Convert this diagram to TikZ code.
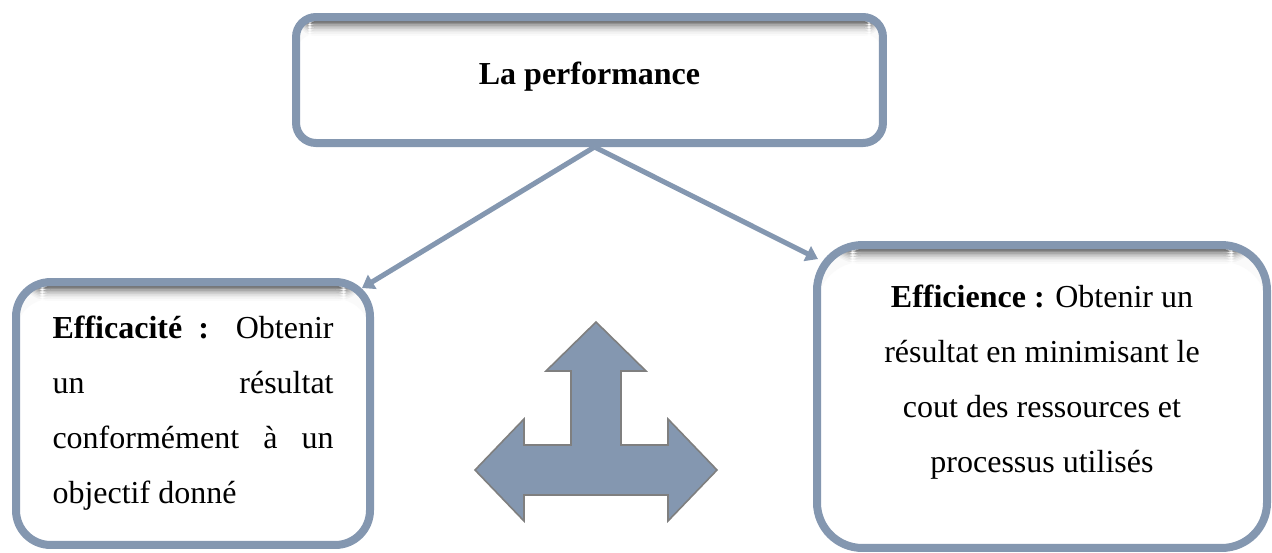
\documentclass[tikz,border=0pt]{standalone}
\usepackage{fontspec}
\setmainfont{Liberation Serif}
\usetikzlibrary{calc,arrows.meta}
\definecolor{frame}{HTML}{8497B0}
\definecolor{edge}{HTML}{7F7F7F}
\tikzset{
  box/.style={draw=frame, fill=white, line width=3pt, inner sep=0pt,
    path picture={\foreach \k/\c in {0/55,1/44,2/34,3/26,4/19,5/13,6/8,7/5,8/2}
      \fill[black!\c] ($(path picture bounding box.north west)+(0,-1.5pt-\k*0.6pt)$)
        rectangle ($(path picture bounding box.north east)+(0,-2.3pt-\k*0.6pt)$);}},
  link/.style={draw=frame, line width=1.9pt, -{Triangle[length=4.5pt,width=6pt]}},
  three/.style={fill=frame, draw=edge, line width=0.6pt, line join=miter},
  lab/.style={font=\fontsize{12pt}{20.6pt}\selectfont, inner sep=0pt},
}

\begin{document}
\begin{tikzpicture}[x=0.375pt,y=-0.375pt]
  \useasboundingbox (0,0) rectangle (1272,552);

  % boxes
  \node[box, minimum width=220.1pt, minimum height=47.25pt, rounded corners=7.5pt] (perf) at (589.5,80) {};
  \node[box, minimum width=132.75pt, minimum height=98.6pt, rounded corners=13pt] (effi) at (193,413.5) {};
  \node[box, minimum width=168.75pt, minimum height=113.6pt, rounded corners=17pt] (effe) at (1042,396.5) {};

  % texts (base = last line)
  \node[lab, anchor=base] (perftxt) at (589.5,84) {\textbf{La performance}};
  \node[lab, anchor=base west, align=left] (effitxt) at (52,503)
    {\makebox[105.4pt][s]{\textbf{Efficacité :} Obtenir}\\
     \makebox[105.4pt][s]{un résultat}\\
     \makebox[105.4pt][s]{conformément à un}\\
     objectif donné};
  \node[lab, anchor=base, align=center] (effetxt) at (1042,472)
    {\textbf{Efficience :} Obtenir un\\
     résultat en minimisant le\\
     cout des ressources et\\
     processus utilisés};

  % links
  \draw[link] ($(perf.south)+(5,0)$) -- ($(effi.north east)+(-12,10)$);
  \draw[link] ($(perf.south)+(5,0)$) -- ($(effe.north west)+(5,18)$);

  % three-way arrow
  \draw[three] (596,322) -- (646,371) -- (621,371) -- (621,445) -- (668,445) -- (668,419)
    -- (717,470) -- (668,521) -- (668,495) -- (524,495) -- (524,521) -- (475,470)
    -- (524,419) -- (524,445) -- (571,445) -- (571,371) -- (546,371) -- cycle;
\end{tikzpicture}
\end{document}
